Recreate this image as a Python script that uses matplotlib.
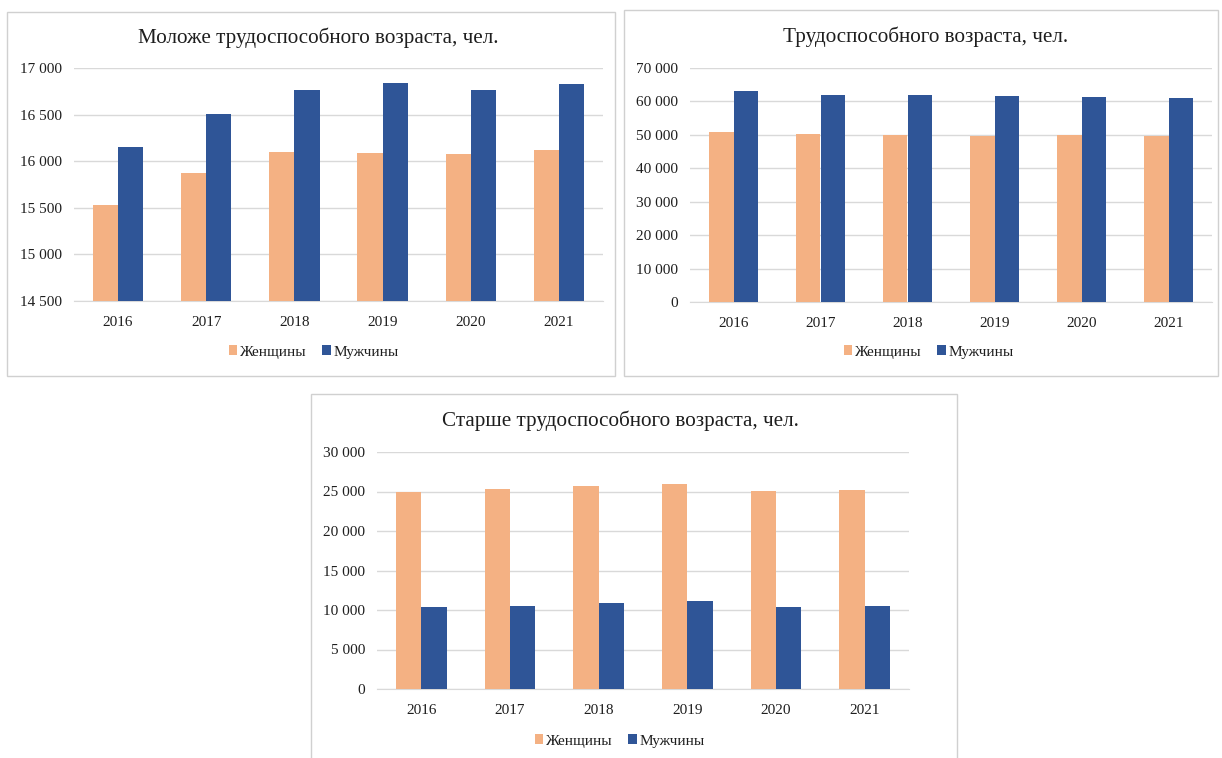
import matplotlib
matplotlib.use("Agg")
import matplotlib.pyplot as plt
import numpy as np
from matplotlib.patches import Rectangle, Patch
from matplotlib.ticker import FuncFormatter

plt.rcParams['font.family'] = ['Liberation Serif', 'DejaVu Serif']

years = ["2016", "2017", "2018", "2019", "2020", "2021"]
series_names = ["Женщины", "Мужчины"]

young_women = [15525, 15877, 16102, 16091, 16073, 16123]
young_men = [16155, 16508, 16768, 16843, 16768, 16825]

working_women = [51000, 50300, 50000, 49600, 50000, 49600]
working_men = [63000, 61800, 61800, 61500, 61300, 61000]

old_women = [24930, 25350, 25650, 25940, 25010, 25140]
old_men = [10350, 10560, 10860, 11110, 10350, 10560]

titles = ["Моложе трудоспособного возраста, чел.",
          "Трудоспособного возраста, чел.",
          "Старше трудоспособного возраста, чел."]

C_W = "#F4B183"
C_M = "#2F5597"
GRID = "#D9D9D9"
TXT = "#1E1E1E"

fig = plt.figure(figsize=(12.22, 7.58), dpi=100)
W, H = 1222, 758

def fx(x): return x / W
def fy(y): return 1 - y / H

# panel borders (pixel coords)
borders = [(7, 12, 615, 376), (624, 10, 1218, 376), (311, 394, 957, 760)]
for (x0, y0, x1, y1) in borders:
    fig.patches.append(Rectangle((fx(x0), fy(y1)), fx(x1) - fx(x0), fy(y0) - fy(y1),
                                 transform=fig.transFigure, fill=False,
                                 edgecolor="#D0D0D0", lw=1.0, zorder=0))

fmt = FuncFormatter(lambda v, p: f"{int(round(v)):,}".replace(",", " "))

panels = [
    dict(rect=(74, 68, 603, 301), data=(young_women, young_men), ylim=(14500, 17000), step=500,
         title_xy=(318, 38), legend_xy=(314, 352)),
    dict(rect=(690, 68, 1212, 302), data=(working_women, working_men), ylim=(0, 70000), step=10000,
         title_xy=(926, 37), legend_xy=(929, 352)),
    dict(rect=(377, 452, 909, 689), data=(old_women, old_men), ylim=(0, 30000), step=5000,
         title_xy=(620, 421), legend_xy=(620, 741)),
]

x = np.arange(len(years))
bw = 0.286
for i, p in enumerate(panels):
    x0, y0, x1, y1 = p["rect"]
    ax = fig.add_axes([fx(x0), fy(y1), fx(x1) - fx(x0), fy(y0) - fy(y1)])
    w, m = p["data"]
    ax.bar(x - bw / 2, w, bw, color=C_W, zorder=3, label=series_names[0])
    ax.bar(x + bw / 2, m, bw, color=C_M, zorder=3, label=series_names[1])
    lo, hi = p["ylim"]
    ax.set_ylim(lo, hi)
    ax.set_xlim(-0.5, len(years) - 0.5)
    ax.set_yticks(np.arange(lo, hi + 1, p["step"]))
    ax.yaxis.set_major_formatter(fmt)
    ax.set_xticks(x)
    ax.set_xticklabels(years)
    ax.tick_params(axis='both', length=0, labelsize=11, colors=TXT)
    ax.tick_params(axis='x', pad=11)
    ax.tick_params(axis='y', pad=8.5)
    ax.grid(axis='y', color=GRID, lw=1, zorder=0)
    for s in ["top", "right", "left"]:
        ax.spines[s].set_visible(False)
    ax.spines["bottom"].set_color(GRID)
    ax.set_facecolor("none")
    tx, ty = p["title_xy"]
    fig.text(fx(tx), fy(ty), titles[i], ha="center", va="center", fontsize=15.2, color=TXT)
    lx, ly = p["legend_xy"]
    handles = [Patch(facecolor=C_W), Patch(facecolor=C_M)]
    fig.legend(handles, series_names, loc="center", bbox_to_anchor=(fx(lx), fy(ly)),
               ncol=2, frameon=False, fontsize=11, handlelength=0.55, handleheight=0.55,
               handletextpad=0.2, columnspacing=1.0, labelcolor=TXT)

fig.savefig("out.png", dpi=100, facecolor="white")
